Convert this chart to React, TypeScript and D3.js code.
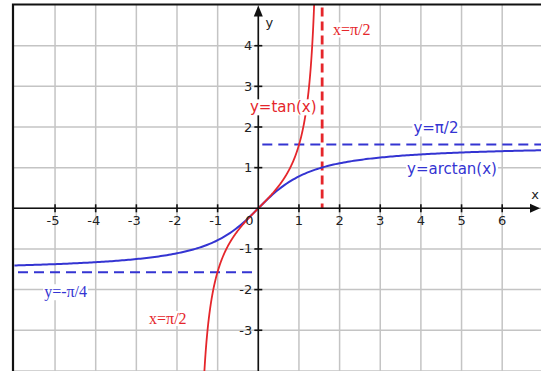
import React, { useEffect, useRef } from "react";
import * as d3 from "d3";

// Axis ranges and tick values
const xDomain = [-6, 7];
const yDomain = [-4, 5];
const xTicks = [-5, -4, -3, -2, -1, 1, 2, 3, 4, 5, 6];
const yTicks = [-3, -2, -1, 1, 2, 3, 4];
const xGrid = [-5, -4, -3, -2, -1, 0, 1, 2, 3, 4, 5, 6];
const yGrid = [-4, -3, -2, -1, 0, 1, 2, 3, 4];

// Asymptotes
const halfPi = Math.PI / 2;
const verticalAsymptote = [halfPi];
const horizontalAsymptotes = [halfPi, -halfPi];

// Sample abscissas for the two curves
const arctanXs = d3.range(-6, 7.05, 0.05);
const tanXs = d3.range(-1.34, 1.38, 0.005);

const RED = "#e5262b";
const BLUE = "#3434d2";

type Label = { text: string; x: number; y: number; color: string; font: string; size: number };

const SANS = "DejaVu Sans, Verdana, sans-serif";
const SERIF = "Liberation Serif, Times New Roman, serif";

const labels: Label[] = [
  { text: "y=tan(x)", x: 0.615, y: 2.49, color: RED, font: SANS, size: 15 },
  { text: "x=π/2", x: 2.3, y: 4.39, color: RED, font: SERIF, size: 16 },
  { text: "y=π/2", x: 4.37, y: 1.97, color: BLUE, font: SANS, size: 15 },
  { text: "y=arctan(x)", x: 4.765, y: 0.98, color: BLUE, font: SANS, size: 15 },
  { text: "y=-π/4", x: -4.74, y: -2.05, color: BLUE, font: SERIF, size: 16 },
  { text: "x=π/2", x: -2.226, y: -2.71, color: RED, font: SERIF, size: 16 },
];

const W = 541;
const H = 371;

export default function App() {
  const ref = useRef<SVGSVGElement>(null);

  useEffect(() => {
    const svg = d3.select(ref.current);
    svg.selectAll("*").remove();

    const x = d3.scaleLinear().domain(xDomain).range([14.4, 14.4 + 13 * 40.65]);
    const y = d3.scaleLinear().domain(yDomain).range([208.3 + 4 * 40.65, 208.3 - 5 * 40.65]);
    const x0 = x(0);
    const y0 = y(0);

    const left = 13;
    const top = 4.5;

    svg.append("rect").attr("width", W).attr("height", H).attr("fill", "#fff");

    svg
      .append("clipPath")
      .attr("id", "plot")
      .append("rect")
      .attr("x", left)
      .attr("y", top)
      .attr("width", W - left)
      .attr("height", H - top);

    const plot = svg.append("g").attr("clip-path", "url(#plot)");

    // grid
    plot
      .selectAll("line.gx")
      .data(xGrid)
      .join("line")
      .attr("x1", (d) => x(d))
      .attr("x2", (d) => x(d))
      .attr("y1", top)
      .attr("y2", H)
      .attr("stroke", "#c4c4c4")
      .attr("stroke-width", 1.5);
    plot
      .selectAll("line.gy")
      .data(yGrid)
      .join("line")
      .attr("y1", (d) => y(d))
      .attr("y2", (d) => y(d))
      .attr("x1", left)
      .attr("x2", W)
      .attr("stroke", "#c4c4c4")
      .attr("stroke-width", 1.5);

    // horizontal asymptotes of arctan
    plot
      .selectAll("line.ha")
      .data(horizontalAsymptotes)
      .join("line")
      .attr("x1", (d) => (d > 0 ? x0 + 4 : left + 5))
      .attr("x2", (d) => (d > 0 ? W : x0))
      .attr("y1", (d) => y(d))
      .attr("y2", (d) => y(d))
      .attr("stroke", BLUE)
      .attr("stroke-width", 2)
      .attr("stroke-dasharray", "10,6");

    // vertical asymptote of tan
    plot
      .selectAll("line.va")
      .data(verticalAsymptote)
      .join("line")
      .attr("x1", (d) => x(d))
      .attr("x2", (d) => x(d))
      .attr("y1", top + 3)
      .attr("y2", y0)
      .attr("stroke", RED)
      .attr("stroke-width", 2.8)
      .attr("stroke-dasharray", "9,5");

    // curves
    const line = d3
      .line<number[]>()
      .x((d) => x(d[0]))
      .y((d) => y(d[1]))
      .curve(d3.curveLinear);

    plot
      .append("path")
      .attr("d", line(arctanXs.map((v) => [v, Math.atan(v)])))
      .attr("fill", "none")
      .attr("stroke", BLUE)
      .attr("stroke-width", 2);

    plot
      .append("path")
      .attr("d", line(tanXs.map((v) => [v, Math.tan(v)])))
      .attr("fill", "none")
      .attr("stroke", RED)
      .attr("stroke-width", 1.8);

    // axes
    const axes = svg.append("g").attr("stroke", "#111").attr("stroke-width", 1.6);
    axes.append("line").attr("x1", left).attr("x2", W - 8).attr("y1", y0).attr("y2", y0);
    axes.append("line").attr("x1", x0).attr("x2", x0).attr("y1", H).attr("y2", top + 8);
    svg
      .append("path")
      .attr("d", `M${W - 1},${y0} L${W - 11},${y0 - 4.5} L${W - 11},${y0 + 4.5} Z`)
      .attr("fill", "#111");
    svg
      .append("path")
      .attr("d", `M${x0},${top + 1} L${x0 - 4.5},${top + 12} L${x0 + 4.5},${top + 12} Z`)
      .attr("fill", "#111");

    axes
      .selectAll("line.tx")
      .data(xTicks)
      .join("line")
      .attr("x1", (d) => x(d))
      .attr("x2", (d) => x(d))
      .attr("y1", y0 - 4)
      .attr("y2", y0 + 4);
    axes
      .selectAll("line.ty")
      .data(yTicks)
      .join("line")
      .attr("y1", (d) => y(d))
      .attr("y2", (d) => y(d))
      .attr("x1", x0 - 4)
      .attr("x2", x0 + 4);

    svg
      .selectAll("text.tx")
      .data(xTicks)
      .join("text")
      .attr("x", (d) => x(d) - (d < 0 ? 2 : 0))
      .attr("y", y0 + 17)
      .attr("text-anchor", "middle")
      .attr("font-family", SANS)
      .attr("font-size", 13)
      .attr("fill", "#222")
      .text((d) => d);
    svg
      .selectAll("text.ty")
      .data(yTicks)
      .join("text")
      .attr("x", x0 - 6)
      .attr("y", (d) => y(d) + 4.5)
      .attr("text-anchor", "end")
      .attr("font-family", SANS)
      .attr("font-size", 13)
      .attr("fill", "#222")
      .text((d) => d);
    svg
      .append("text")
      .attr("x", x0 - 9)
      .attr("y", y0 + 17)
      .attr("text-anchor", "middle")
      .attr("font-family", SANS)
      .attr("font-size", 13)
      .attr("fill", "#222")
      .text("0");

    svg
      .append("text")
      .attr("x", W - 6)
      .attr("y", y0 - 9)
      .attr("text-anchor", "middle")
      .attr("font-family", SANS)
      .attr("font-size", 13)
      .attr("fill", "#222")
      .text("x");
    svg
      .append("text")
      .attr("x", x0 + 11)
      .attr("y", 27)
      .attr("text-anchor", "middle")
      .attr("font-family", SANS)
      .attr("font-size", 13)
      .attr("fill", "#222")
      .text("y");

    // curve and asymptote labels on white backing
    labels.forEach((l) => {
      const g = svg.append("g");
      const bg = g.append("rect").attr("fill", "#fff");
      const t = g
        .append("text")
        .attr("x", x(l.x))
        .attr("y", y(l.y))
        .attr("dy", "0.35em")
        .attr("text-anchor", "middle")
        .attr("font-family", l.font)
        .attr("font-size", l.size)
        .attr("fill", l.color)
        .text(l.text);
      const b = (t.node() as SVGTextElement).getBBox();
      bg.attr("x", b.x - 1)
        .attr("y", b.y + 1)
        .attr("width", b.width + 2)
        .attr("height", b.height - 2);
    });

    // frame
    svg
      .append("path")
      .attr("d", `M${left},${H} L${left},${top} L${W},${top}`)
      .attr("fill", "none")
      .attr("stroke", "#111")
      .attr("stroke-width", 2.2);
  }, []);

  return (
    <svg
      ref={ref}
      width={W}
      height={H}
      style={{ position: "absolute", left: 0, top: 0, display: "block" }}
    />
  );
}
